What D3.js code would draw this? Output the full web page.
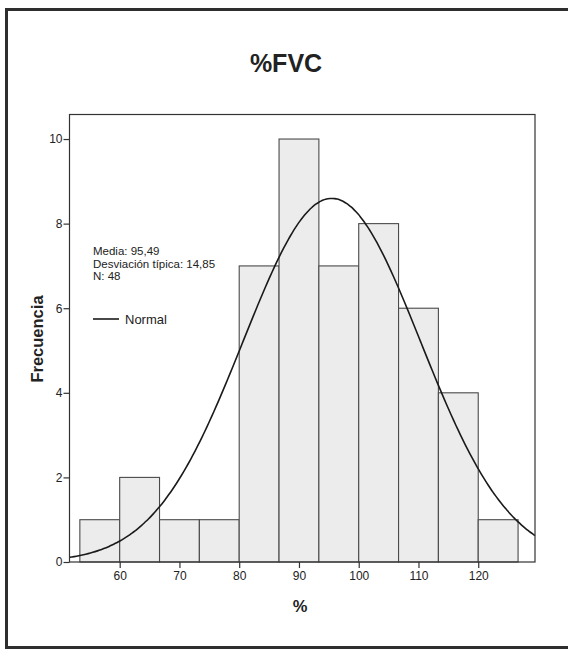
<!DOCTYPE html>
<html>
<head>
<meta charset="utf-8">
<script src="https://cdn.jsdelivr.net/npm/d3@7"></script>
<style>
  html, body { margin: 0; padding: 0; background: #fff; }
  svg { display: block; font-family: "Liberation Sans", Arial, sans-serif; }
</style>
</head>
<body>
<svg id="chart" width="568" height="652"></svg>
<script>
// ---- data ----
const binStart = 53.3333;
const binWidth = 20 / 3;
const counts = [1, 2, 1, 1, 7, 10, 7, 8, 6, 4, 1];
const xTicks = [60, 70, 80, 90, 100, 110, 120];
const yTicks = [0, 2, 4, 6, 8, 10];
const meanVal = 95.49;
const sdVal = 14.85;
const nVal = 48;
const statLines = ["Media: 95,49", "Desviación típica: 14,85", "N: 48"];
const titleText = "%FVC";
const xLabel = "%";
const yLabel = "Frecuencia";

// ---- layout ----
const svg = d3.select("#chart");
const pLeft = 69.5, pRight = 535, pTop = 114.5, pBottom = 562;

const x = d3.scaleLinear().domain([51.6, 129.5]).range([pLeft, pRight]);
const y = d3.scaleLinear().domain([0, 10.58]).range([pBottom, pTop]);

// outer frame
svg.append("rect")
  .attr("x", 6.5).attr("y", 9.5).attr("width", 575).attr("height", 638)
  .attr("fill", "none").attr("stroke", "#2e2e2e").attr("stroke-width", 3);

// title
svg.append("text")
  .attr("x", 286).attr("y", 72)
  .attr("text-anchor", "middle")
  .attr("font-size", 25).attr("font-weight", "bold").attr("fill", "#222")
  .text(titleText);

// bars
const bins = counts.map((c, i) => ({ x0: binStart + i * binWidth, x1: binStart + (i + 1) * binWidth, c }));
svg.append("g").selectAll("rect").data(bins).join("rect")
  .attr("x", d => x(d.x0))
  .attr("width", d => x(d.x1) - x(d.x0))
  .attr("y", d => y(d.c))
  .attr("height", d => y(0) - y(d.c))
  .attr("fill", "#ececec")
  .attr("stroke", "#4a4a4a")
  .attr("stroke-width", 1.1);

// normal curve
const pdf = v => Math.exp(-0.5 * Math.pow((v - meanVal) / sdVal, 2)) / (sdVal * Math.sqrt(2 * Math.PI));
const xs = d3.range(0, 201).map(i => x.domain()[0] + (x.domain()[1] - x.domain()[0]) * i / 200);
svg.append("path")
  .datum(xs)
  .attr("fill", "none")
  .attr("stroke", "#1a1a1a")
  .attr("stroke-width", 1.6)
  .attr("d", d3.line().x(d => x(d)).y(d => y(nVal * binWidth * pdf(d))).curve(d3.curveBasis));

// plot frame
svg.append("rect")
  .attr("x", pLeft).attr("y", pTop).attr("width", pRight - pLeft).attr("height", pBottom - pTop)
  .attr("fill", "none").attr("stroke", "#333").attr("stroke-width", 1.2);

// axes
const xAxis = svg.append("g").attr("transform", `translate(0,${pBottom})`)
  .call(d3.axisBottom(x).tickValues(xTicks).tickSize(6).tickSizeOuter(0).tickPadding(3));
const yAxis = svg.append("g").attr("transform", `translate(${pLeft},0)`)
  .call(d3.axisLeft(y).tickValues(yTicks).tickSize(6).tickSizeOuter(0).tickPadding(1));
[xAxis, yAxis].forEach(g => {
  g.select(".domain").remove();
  g.selectAll("line").attr("stroke", "#333").attr("stroke-width", 1.2);
  g.selectAll("text").attr("fill", "#222").attr("font-size", 12)
    .attr("font-family", "'Liberation Sans', Arial, sans-serif");
});

// axis labels
svg.append("text")
  .attr("x", 300).attr("y", 612)
  .attr("text-anchor", "middle")
  .attr("font-size", 16.5).attr("font-weight", "bold").attr("fill", "#222")
  .text(xLabel);
svg.append("text")
  .attr("transform", "translate(43,339) rotate(-90)")
  .attr("text-anchor", "middle")
  .attr("font-size", 16.5).attr("font-weight", "bold").attr("fill", "#222")
  .text(yLabel);

// stats text
svg.append("g").selectAll("text").data(statLines).join("text")
  .attr("x", 93).attr("y", (d, i) => 255 + i * 12.5)
  .attr("font-size", 11.5).attr("fill", "#222")
  .text(d => d);

// legend
svg.append("line")
  .attr("x1", 93).attr("x2", 119).attr("y1", 319).attr("y2", 319)
  .attr("stroke", "#1a1a1a").attr("stroke-width", 1.6);
svg.append("text")
  .attr("x", 125).attr("y", 324)
  .attr("font-size", 13).attr("fill", "#222")
  .text("Normal");
</script>
</body>
</html>
